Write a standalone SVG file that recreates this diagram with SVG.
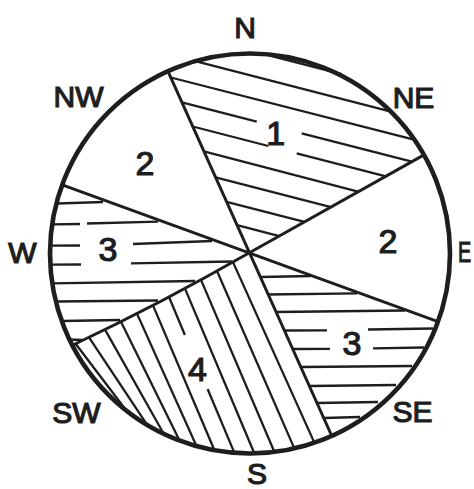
<svg xmlns="http://www.w3.org/2000/svg" width="474" height="489" viewBox="0 0 474 489">
<style>
.rim{fill:none;stroke:#1e1e1e;stroke-width:4.6}
.div{fill:none;stroke:#1e1e1e;stroke-width:3;stroke-linecap:round;stroke-linejoin:round}
.h{fill:none;stroke:#1e1e1e;stroke-width:2.3;stroke-linecap:butt}
.lbl{font-family:"Liberation Sans",Arial,sans-serif;font-size:30px;fill:#1e1e1e;stroke:#1e1e1e;stroke-width:1.2;text-anchor:middle}
.num{font-size:34px}
</style>
<rect width="474" height="489" fill="#fff"/>

<g id="sector-1">
<path class="h" d="M260,53.1 L341.7,74.2 M193.3,60.7 L390,111.3 M170.8,77.5 L412,139.2 M181.9,102.4 L256.7,121.7 M301.7,133.3 L411.9,161.7 M192.8,126.5 L268.3,146 M296.7,153.3 L385.9,176.3 M203.9,151.3 L359,191.9 M215.6,177.3 L331,207.1 M226.6,201.9 L304.4,221.9 M237.1,225.2 L279.3,236.1"/>
<text class="lbl num" x="275.7" y="145">1</text>
</g>

<g id="sector-2-nw">
<text class="lbl num" x="145" y="175">2</text>
</g>

<g id="sector-3-w">
<path class="h" d="M57,203.5 L103,202 M53,224.3 L80,224 M87,223.5 L158,221.7 M51,245.7 L80,245.5 M133,244 L212,241 M51,264.7 L81,264.5 M131,263.3 L232,261.5 M52,283.3 L195,281 M56,301.5 L158,300.5 M62,321 L120,320 M69,339.5 L82,340"/>
<text class="lbl num" x="108" y="261">3</text>
</g>

<g id="sector-4">
<path class="h" d="M233,262.1 L314,441.9 M217,271 L294,447.6 M201,279.9 L274,451 M185,288.6 L254,452.5 M169,297 L184.9,335 M207.6,389 L234,451.9 M153,305.4 L214,449.2 M137,313.6 L196,445 M121,321.7 L179,439.4 M105,329.6 L163,432.5 M89,337.4 L146,423.2 M75.6,343.8 L124,407.5"/>
<text class="lbl num" x="197.5" y="381">4</text>
</g>

<g id="sector-3-se">
<path class="h" d="M261,277 L311,276 M268,294.5 L357,293.3 M276,312 L405,310.5 M284.5,330.5 L327,330.3 M368,329.5 L433,328.5 M292.7,349 L330,348.8 M373,348.3 L424,347.5 M301,367 L412,366 M309.5,386 L396,385 M317,403 L378,402 M324,418 L360,417"/>
<text class="lbl num" x="352" y="355">3</text>
</g>

<g id="sector-2-e">
<text class="lbl num" x="388" y="253">2</text>
</g>

<g id="connectors">
<circle class="rim" cx="250" cy="253.5" r="200"/>
<path class="div" d="M167.9,71.1 L331.8,436"/>
<path class="div" d="M62.2,184.8 L438,321.7"/>
<path class="div" d="M424,154.9 L249.4,252.8 Q160,304 73,345"/>
</g>

<g id="compass-labels">
<text class="lbl" x="78.5" y="107">NW</text>
<text class="lbl" x="245" y="38">N</text>
<text class="lbl" x="413.5" y="108">NE</text>
<text class="lbl" x="22.5" y="263">W</text>
<text class="lbl" transform="translate(458,262) scale(0.66,1)" x="0" y="0" style="text-anchor:start">E</text>
<text class="lbl" x="76.5" y="423">SW</text>
<text class="lbl" x="412.5" y="422">SE</text>
<text class="lbl" x="257" y="484">S</text>
</g>
</svg>
